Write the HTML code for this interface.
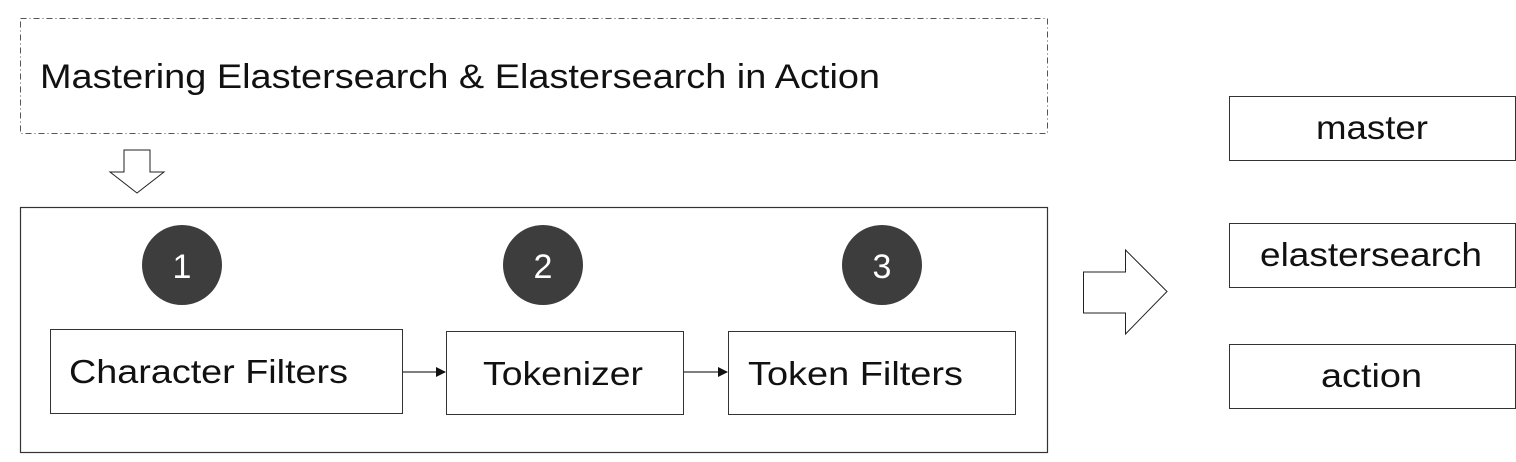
<!DOCTYPE html>
<html><head><meta charset="utf-8"><style>
html,body{margin:0;padding:0;background:#fff;width:1516px;height:462px;overflow:hidden}
svg text{font-family:"Liberation Sans",sans-serif;fill:#111}
</style></head><body>
<svg width="1516" height="462" viewBox="0 0 1516 462" xmlns="http://www.w3.org/2000/svg">
<defs><marker id="ah" markerWidth="10" markerHeight="10" refX="9" refY="5" orient="auto" markerUnits="userSpaceOnUse"><path d="M0,0 L10,5 L0,10 z" fill="#111"/></marker></defs>
<rect x="20.5" y="18.5" width="1027" height="115" fill="none" stroke="#555" stroke-width="1" stroke-dasharray="6,3,1,3"/>
<text x="40" y="88" font-size="34" textLength="840" lengthAdjust="spacingAndGlyphs">Mastering Elastersearch &amp; Elastersearch in Action</text>
<path d="M124,150 L150,150 L150,172 L164,172 L137,193 L110,172 L124,172 Z" fill="#fff" stroke="#222" stroke-width="1"/>
<rect x="20.5" y="207.5" width="1027" height="245" fill="none" stroke="#333" stroke-width="1.2"/>
<ellipse cx="182" cy="265" rx="40" ry="40" fill="#3d3d3d"/>
<ellipse cx="543" cy="265" rx="40" ry="40" fill="#3d3d3d"/>
<ellipse cx="882" cy="265" rx="40" ry="40" fill="#3d3d3d"/>
<text x="182" y="278" font-size="34" text-anchor="middle" style="fill:#fff">1</text>
<text x="543" y="278" font-size="34" text-anchor="middle" style="fill:#fff">2</text>
<text x="882" y="278" font-size="34" text-anchor="middle" style="fill:#fff">3</text>
<rect x="50.5" y="329.5" width="352" height="84" fill="#fff" stroke="#333" stroke-width="1"/>
<text x="69" y="383" font-size="33" textLength="279" lengthAdjust="spacingAndGlyphs">Character Filters</text>
<rect x="446.5" y="331.5" width="237" height="83" fill="#fff" stroke="#333" stroke-width="1"/>
<text x="483" y="385" font-size="33" textLength="160" lengthAdjust="spacingAndGlyphs">Tokenizer</text>
<rect x="728.5" y="331.5" width="287" height="83" fill="#fff" stroke="#333" stroke-width="1"/>
<text x="748" y="385" font-size="33" textLength="215" lengthAdjust="spacingAndGlyphs">Token Filters</text>
<line x1="403" y1="372" x2="445" y2="372" stroke="#333" stroke-width="1.2" marker-end="url(#ah)"/>
<line x1="684" y1="372" x2="727" y2="372" stroke="#333" stroke-width="1.2" marker-end="url(#ah)"/>
<path d="M1083.5,272 L1125.5,272 L1125.5,250 L1167,291.5 L1125.5,334 L1125.5,313 L1083.5,313 Z" fill="#fff" stroke="#222" stroke-width="1"/>
<rect x="1229.5" y="96.5" width="286" height="64" fill="#fff" stroke="#333" stroke-width="1"/>
<text x="1316" y="139" font-size="33" textLength="112" lengthAdjust="spacingAndGlyphs">master</text>
<rect x="1229.5" y="223.5" width="286" height="64" fill="#fff" stroke="#333" stroke-width="1"/>
<text x="1260" y="266" font-size="33" textLength="222" lengthAdjust="spacingAndGlyphs">elastersearch</text>
<rect x="1229.5" y="344.5" width="286" height="64" fill="#fff" stroke="#333" stroke-width="1"/>
<text x="1321" y="387" font-size="33" textLength="101" lengthAdjust="spacingAndGlyphs">action</text>
</svg>
</body></html>
